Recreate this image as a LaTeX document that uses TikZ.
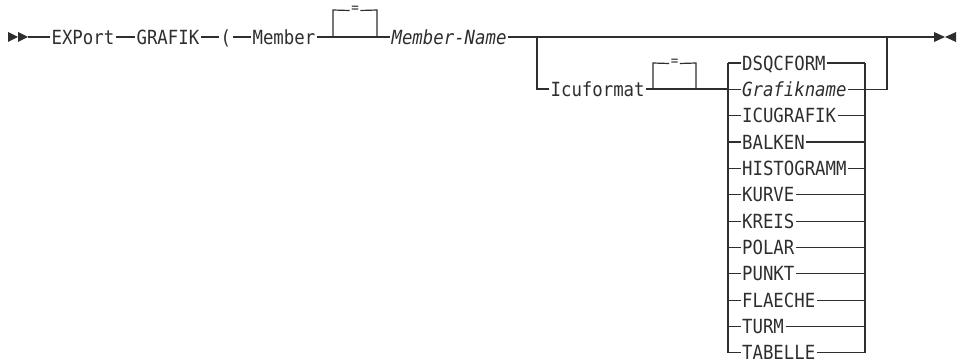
\documentclass[tikz,border=0pt]{standalone}
\usepackage{fontspec}
\newfontfamily\rrfont[FakeStretch=0.89]{DejaVu Sans Mono}
\definecolor{rrline}{HTML}{2E2E2E}
\begin{document}
\begin{tikzpicture}[x=1pt,y=-1pt,line width=1.2pt,draw=rrline,
  kw/.style={inner xsep=1pt,inner ysep=0pt,text height=14.2pt,text depth=0pt,anchor=west,
    text=rrline,font=\rrfont\fontsize{19.5pt}{22pt}\selectfont},
  var/.style={kw,font=\rrfont\fontsize{19.5pt}{22pt}\selectfont\itshape},
  eqs/.style={inner xsep=1pt,inner ysep=0pt,text height=5pt,text depth=0pt,anchor=center,
    text=rrline,font=\rrfont\fontsize{14pt}{16pt}\selectfont},
  tip/.style={fill=rrline,draw=none}]
\useasboundingbox (0,0) rectangle (964,361);
% start marker
\fill[tip] (8,32) -- (18,37) -- (8,42) -- cycle;
\fill[tip] (18,32) -- (28,37) -- (18,42) -- cycle;
\coordinate (start) at (28,37);
% main line nodes
\node[kw] (export) at (50,37) {EXPort};
\node[kw] (grafik) at (135,37) {GRAFIK};
\node[kw] (paren) at (219,37) {(};
\node[kw] (member) at (251,37) {Member};
\coordinate (e1l) at (333,37);
\coordinate (e1r) at (377,37);
\coordinate (e1tl) at (333,10);
\coordinate (e1tr) at (377,10);
\node[eqs] (eq1) at (355,10.5) {=};
\node[var] (mname) at (390,37) {Member-Name};
\coordinate (b1) at (537,37);
\coordinate (b2) at (887,37);
\coordinate (fin) at (934,37);
\draw (start) -- (export.west);
\draw (export.east) -- (grafik.west);
\draw (grafik.east) -- (paren.west);
\draw (paren.east) -- (member.west);
\draw (member.east) -- (e1l) -- (e1r) -- (mname.west);
\draw (e1l) -- (e1tl) -- (eq1.west);
\draw (eq1.east) -- (e1tr) -- (e1r);
\draw (mname.east) -- (b1) -- (b2) -- (fin);
% end marker
\fill[tip] (934,32) -- (945,37) -- (934,42) -- cycle;
\fill[tip] (956,32) -- (945,37) -- (956,42) -- cycle;
% Icuformat branch
\node[kw] (icu) at (549,89) {Icuformat};
\coordinate (e2l) at (653,89);
\coordinate (e2r) at (696,89);
\coordinate (e2tl) at (653,63);
\coordinate (e2tr) at (696,63);
\node[eqs] (eq2) at (674.5,63.5) {=};
\draw (b1) |- (icu.west);
\draw (icu.east) -- (e2l) -- (e2r);
\draw (e2l) -- (e2tl) -- (eq2.west);
\draw (eq2.east) -- (e2tr) -- (e2r);
% choice stack
\coordinate (sl) at (728,89);
\draw (e2r) -- (sl);
\coordinate (ltop) at (728,63);
\coordinate (lbot) at (728,352.9);
\coordinate (rtop) at (865,63);
\coordinate (rbot) at (865,352.9);
\draw (ltop) -- (lbot);
\draw (rtop) -- (rbot);
\foreach \st/\lab/\nm [count=\i from 0] in {kw/DSQCFORM/o0,var/Grafikname/o1,kw/ICUGRAFIK/o2,
  kw/BALKEN/o3,kw/HISTOGRAMM/o4,kw/KURVE/o5,kw/KREIS/o6,kw/POLAR/o7,kw/PUNKT/o8,
  kw/FLAECHE/o9,kw/TURM/o10,kw/TABELLE/o11}{
  \node[\st] (\nm) at (740.5,{63+26.35*\i}) {\lab};
  \draw (728,{63+26.35*\i}) -- (\nm.west);
  \draw (\nm.east) -- (865,{63+26.35*\i});
}
\coordinate (gout) at (887,89.35);
\draw (o1.east) -- (gout) -- (b2);
\end{tikzpicture}
\end{document}
